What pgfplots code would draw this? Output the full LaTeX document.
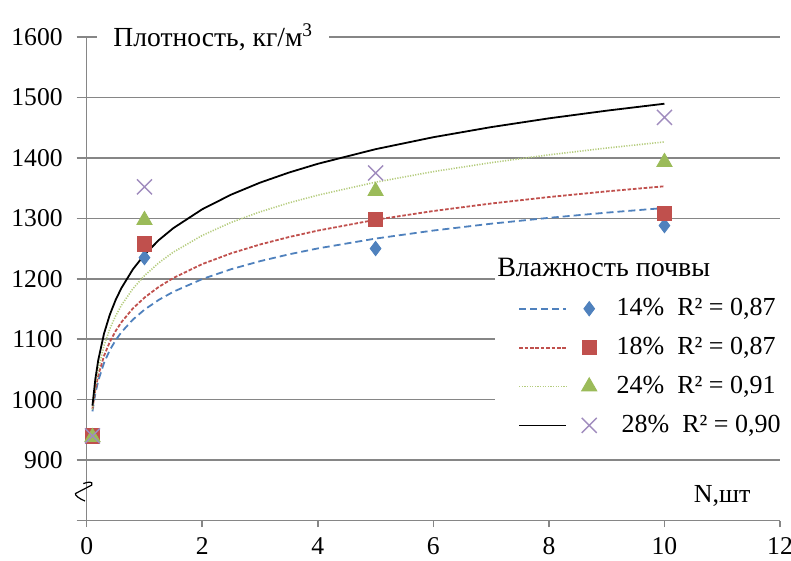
\documentclass[border=0pt]{standalone}
\usepackage{fontspec}
\setmainfont{Liberation Serif}
\usepackage{pgfplots}
\pgfplotsset{compat=1.18}
\definecolor{c14}{HTML}{4F81BD}
\definecolor{c18}{HTML}{C0504D}
\definecolor{c24}{HTML}{9BBB59}
\definecolor{c24l}{HTML}{B5CC7E}
\definecolor{c28}{RGB}{160,140,190}
\definecolor{gridc}{HTML}{868686}
\pgfplotsset{
  legimg/.style n args={3}{legend image code/.code={
    \draw[#1] (0pt,0pt) -- (23.5pt,0pt);
    \draw[solid,#2] plot[#3] coordinates {(35pt,0pt)};
    \path (47pt,0pt);
  }}
}
\begin{document}
\begin{tikzpicture}
\begin{axis}[
  scale only axis, width=346.7pt, height=241.8pt,
  xmin=0, xmax=12, ymin=800, ymax=1600,
  axis x line*=bottom, axis y line*=left,
  axis line style={gridc, line width=0.8pt},
  xtick={0,2,...,12}, ytick={800,900,...,1600},
  yticklabels={,900,1000,1100,1200,1300,1400,1500,1600},
  ymajorgrids, grid style={gridc, line width=0.8pt},
  tick align=outside, major tick length=5pt,
  xtick style={gridc, line width=0.8pt, /pgfplots/major tick length=3.3pt},
  ytick style={gridc, line width=0.8pt},
  tick label style={font=\rmfamily\fontsize{12.8}{14}\selectfont},
  yticklabel style={xshift=-3.5pt},
  /pgf/number format/assume math mode=true,
  /pgf/number format/1000 sep={},
  clip=false,
  legend style={at={(0.622,0.466)}, anchor=north west, draw=none, fill=none,
    inner sep=0pt, row sep=6.3pt, font=\rmfamily\fontsize{13}{15}\selectfont,
    nodes={inner sep=1.5pt}},
  legend cell align=left,
]
\coordinate (bl) at (rel axis cs:0,0);
\coordinate (tr) at (rel axis cs:1,1);
\coordinate (brk) at (axis cs:0,850);
\fill[white] (axis cs:7.07,932) rectangle (axis cs:12,1252);

% logarithmic trend lines
\addplot[c14, line width=0.9pt, dash pattern=on 3.5pt off 2pt, forget plot] coordinates {
(0.1,980.6)(0.15,1010.2)(0.2,1031.2)(0.3,1060.9)(0.4,1081.9)(0.5,1098.2)(0.6,1111.5)(0.8,1132.5)(1,1148.9)(1.25,1165.2)(1.5,1178.5)(2,1199.5)(2.5,1215.8)(3,1229.1)(3.5,1240.4)(4,1250.2)(5,1266.5)(6,1279.8)(7,1291.1)(8,1300.8)(9,1309.4)(10,1317.1)};
\addplot[c18, line width=0.9pt, dash pattern=on 1.8pt off 0.9pt, forget plot] coordinates {
(0.1,984.6)(0.15,1017.1)(0.2,1040.1)(0.3,1072.5)(0.4,1095.5)(0.5,1113.4)(0.6,1128.0)(0.8,1151.0)(1,1168.8)(1.25,1186.7)(1.5,1201.3)(2,1224.3)(2.5,1242.1)(3,1256.7)(3.5,1269.0)(4,1279.7)(5,1297.6)(6,1312.1)(7,1324.5)(8,1335.2)(9,1344.6)(10,1353.0)};
\addplot[c24l, line width=0.8pt, dash pattern=on 0.6pt off 0.7pt, forget plot] coordinates {
(0.1,983.7)(0.15,1022.7)(0.2,1050.4)(0.3,1089.3)(0.4,1117.0)(0.5,1138.4)(0.6,1156.0)(0.8,1183.6)(1,1205.1)(1.25,1226.5)(1.5,1244.1)(2,1271.7)(2.5,1293.2)(3,1310.7)(3.5,1325.5)(4,1338.3)(5,1359.8)(6,1377.3)(7,1392.1)(8,1405.0)(9,1416.3)(10,1426.4)};
\addplot[black, line width=0.9pt, forget plot] coordinates {
(0.1,990.1)(0.15,1034.1)(0.2,1065.3)(0.3,1109.3)(0.4,1140.5)(0.5,1164.7)(0.6,1184.5)(0.8,1215.7)(1,1239.9)(1.25,1264.1)(1.5,1283.8)(2,1315.0)(2.5,1339.2)(3,1359.0)(3.5,1375.7)(4,1390.2)(5,1414.4)(6,1434.2)(7,1450.9)(8,1465.4)(9,1478.1)(10,1489.6)};

% measured points
\addplot[only marks, mark=diamond*, mark size=3.6pt, c14, forget plot] coordinates {(0.1,940)(1,1235)(5,1250)(10,1288)};
\addplot[only marks, mark=square*, mark size=3.6pt, c18, forget plot] coordinates {(0.1,940)(1,1258)(5,1298)(10,1308)};
\addplot[only marks, mark=triangle*, mark size=4.4pt, c24, forget plot] coordinates {(0.1,938)(1,1297)(5,1345)(10,1393)};
\addplot[only marks, mark=x, mark size=5.3pt, c28, line width=0.7pt, forget plot] coordinates {(0.1,940)(1,1352)(5,1375)(10,1467)};

\addlegendimage{legimg={c14,line width=0.9pt,dash pattern=on 3.5pt off 2pt}{c14,fill=c14}{mark=diamond*,mark size=3.6pt}}
\addlegendentry{14\%\ \ R² = 0,87}
\addlegendimage{legimg={c18,line width=0.9pt,dash pattern=on 1.8pt off 0.9pt}{c18,fill=c18}{mark=square*,mark size=3.6pt}}
\addlegendentry{18\%\ \ R² = 0,87}
\addlegendimage{legimg={c24l,line width=0.8pt,dash pattern=on 0.6pt off 0.7pt}{c24,fill=c24}{mark=triangle*,mark size=4.4pt}}
\addlegendentry{24\%\ \ R² = 0,91}
\addlegendimage{legimg={black,line width=0.9pt}{c28,line width=0.7pt}{mark=x,mark size=5.3pt}}
\addlegendentry{\hspace{2.5pt}28\%\ \ R² = 0,90}

\node[anchor=west, fill=white, inner xsep=8pt, inner ysep=2pt, font=\rmfamily\fontsize{13.8}{16}\selectfont]
  at (axis cs:0.18,1600) {Плотность, кг/м\textsuperscript{3}};
\node[anchor=west, inner sep=0pt, font=\rmfamily\fontsize{14}{16}\selectfont]
  at (axis cs:7.10,1218) {Влажность почвы};
\node[font=\rmfamily\fontsize{13}{15}\selectfont] at (axis cs:11.0,840) {N,шт};
% axis break mark
\draw[black, line width=0.6pt]
  ([shift={(-1.7pt,3.35pt)}]brk) .. controls ([shift={(0.5pt,4.3pt)}]brk) and ([shift={(3.5pt,4.6pt)}]brk) .. ([shift={(2.5pt,2.6pt)}]brk)
  -- ([shift={(-5.6pt,-1.6pt)}]brk)
  .. controls ([shift={(-6.2pt,-2.4pt)}]brk) and ([shift={(-3.5pt,-4.3pt)}]brk) .. ([shift={(-0.85pt,-5.35pt)}]brk);
\end{axis}
\pgfresetboundingbox
\path[use as bounding box] ([xshift=-43.35pt,yshift=-20.2pt]bl) rectangle ([xshift=5.5pt,yshift=18.5pt]tr);
\end{tikzpicture}
\end{document}
